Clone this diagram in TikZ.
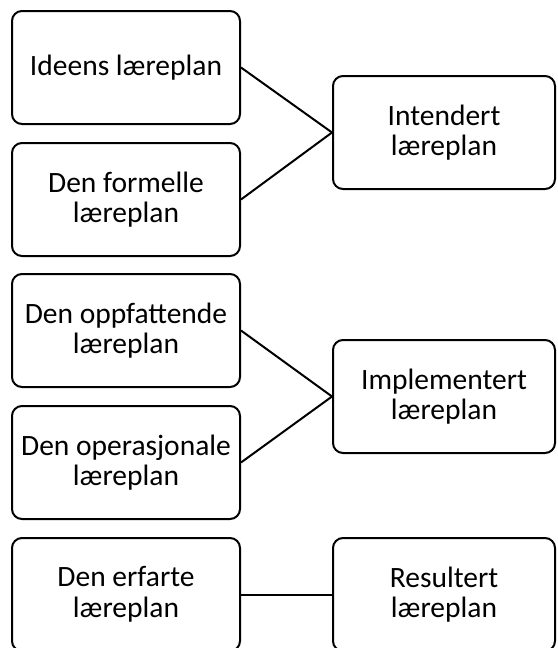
\documentclass[tikz,border=0pt]{standalone}
\usepackage{fontspec}
\setmainfont{Carlito}
\usepackage{tikz}

\begin{document}
\begin{tikzpicture}[x=1pt,y=-1pt,line width=2pt,
                    plan node/.style={rectangle,rounded corners=10pt,draw,align=center,
                      inner sep=2pt,font=\fontsize{29.5}{30.5}\selectfont},
                    left node/.style={plan node,minimum width=228pt,minimum height=113pt},
                    right node/.style={plan node,minimum width=222pt,minimum height=113pt}]
      \useasboundingbox (0,0) rectangle (557,648);
      \begin{scope}
      \clip (0,0) rectangle (557,648);
      \node[left node] (ideen) at (126,67.5) {Ideens læreplan};
      \node[left node] (formell) at (126,199.5) {Den formelle\\læreplan};
      \node[left node] (oppfatt) at (126,330.5) {Den oppfattende\\læreplan};
      \node[left node] (operasj) at (126,462.5) {Den operasjonale\\læreplan};
      \node[left node] (erfart) at (126,594.5) {Den erfarte\\læreplan};
      \node[right node] (intend) at (444,132.5) {Intendert\\læreplan};
      \node[right node] (implem) at (444,396.5) {Implementert\\læreplan};
      \node[right node] (result) at (444,594.5) {Resultert\\læreplan};
    %
      \path (ideen.east) edge (intend.west);
      \path (formell.east) edge (intend.west);
    %
      \path (oppfatt.east) edge (implem.west);
      \path (operasj.east) edge (implem.west);
    %
      \path (erfart.east) edge (result.west);
      \end{scope}
\end{tikzpicture}
\end{document}
